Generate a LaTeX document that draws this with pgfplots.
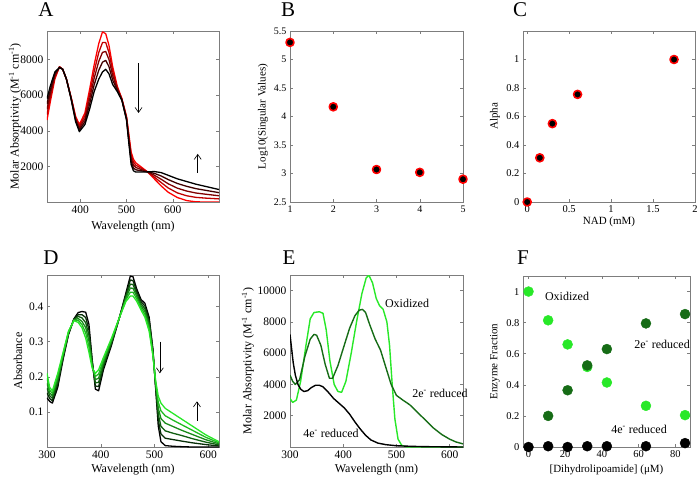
\documentclass[border=0pt]{standalone}
\usepackage{fontspec}
\setmainfont{Liberation Serif}
\usepackage{pgfplots}
\usepackage{pgfplotstable}
\pgfplotsset{compat=1.18}
\usetikzlibrary{arrows.meta}
\definecolor{lgreen}{RGB}{40,232,40}
\definecolor{dgreen}{RGB}{22,108,22}
\definecolor{axgray}{RGB}{125,125,125}

\pgfplotstableread{
nm r1 r2 r3 r4 r5
328 4600 4900 5200 5500 5800
335 5600 5825 6050 6275 6500
345 6900 7000 7100 7200 7300
355 7600 7590 7575 7560 7550
362 7450 7450 7450 7450 7450
370 6900 6900 6900 6900 6900
380 5900 5875 5850 5825 5800
390 4800 4725 4650 4575 4500
398 4350 4250 4150 4050 3950
410 5000 4840 4675 4510 4350
420 6300 6025 5750 5475 5200
430 7700 7325 6950 6575 6200
440 8900 8400 7900 7400 6900
448 9550 8950 8400 7850 7300
455 9450 8950 8450 7950 7450
462 8800 8400 8000 7600 7200
470 7600 7350 7100 6850 6600
480 6500 6425 6350 6275 6200
490 5800 5775 5750 5725 5700
500 4800 4750 4700 4650 4600
505 3800 3675 3550 3425 3300
510 2800 2625 2450 2275 2100
515 2400 2240 2075 1910 1750
520 2200 2070 1940 1810 1680
530 2000 1920 1840 1760 1680
545 1700 1700 1695 1690 1690
560 1300 1400 1505 1610 1710
575 900 1090 1275 1460 1650
590 550 790 1025 1260 1500
610 250 510 775 1040 1300
630 80 350 615 880 1150
650 10 260 505 750 1000
670 0 220 440 660 880
690 0 190 380 570 760
700 0 175 350 525 700
}\tabA

\pgfplotstableread{
nm d0 d1 d2 d3 d4 d5
300 .14 .154 .168 .182 .196 .21
305 .13 .138 .146 .154 .162 .17
310 .125 .132 .139 .146 .153 .16
320 .17 .178 .186 .194 .202 .21
330 .25 .254 .258 .262 .266 .27
340 .32 .322 .324 .326 .328 .33
350 .365 .364 .363 .362 .361 .36
358 .383 .377 .372 .366 .361 .355
365 .386 .377 .368 .358 .349 .34
372 .384 .369 .354 .340 .325 .31
378 .35 .334 .318 .302 .286 .27
384 .25 .245 .24 .235 .23 .225
390 .165 .174 .183 .192 .201 .21
396 .16 .172 .184 .196 .208 .22
405 .22 .227 .234 .241 .248 .255
420 .29 .294 .298 .302 .306 .31
435 .37 .37 .37 .37 .37 .37
447 .44 .435 .43 .425 .42 .415
455 .487 .476 .464 .453 .441 .43
460 .485 .474 .463 .452 .441 .43
467 .45 .443 .436 .429 .422 .415
475 .42 .414 .408 .402 .396 .39
482 .41 .402 .394 .386 .378 .37
490 .37 .362 .354 .346 .338 .33
497 .28 .276 .272 .268 .264 .26
502 .17 .174 .178 .182 .186 .19
507 .06 .077 .094 .111 .128 .145
512 .015 .037 .059 .081 .103 .125
520 .004 .025 .046 .068 .089 .11
535 .002 .021 .039 .058 .076 .095
550 .001 .017 .033 .048 .064 .08
570 0 .012 .024 .036 .048 .06
595 0 .007 .014 .021 .028 .035
620 0 .003 .006 .009 .012 .015
}\tabD

\pgfplotsset{
  panel/.style={
    scale only axis,
    axis line style={axgray, line width=0.6pt},
    every tick/.style={axgray, line width=0.5pt},
    tick align=inside, major tick length=3pt,
    /pgf/number format/assume math mode=true,
    /pgf/number format/1000 sep={},
    scaled ticks=false,
    tick label style={font=\fontsize{11.5}{13}\selectfont},
    label style={font=\fontsize{12}{14}\selectfont},
    every axis plot/.append style={line join=round},
  },
  ylab/.style={every axis y label/.append style={at={(axis description cs:#1,0.5)}, rotate=0, anchor=center}},
  xlab/.style={every axis x label/.append style={at={(axis description cs:0.5,#1)}, anchor=center}},
  sc/.style={only marks, mark=*, mark size=4pt, mark options={fill=black, draw=red, line width=1.6pt}},
}

\begin{document}
\begin{tikzpicture}[x=1pt,y=1pt]
\useasboundingbox (0,0) rectangle (700,479);

% ---------- A ----------
\begin{axis}[panel, at={(47pt,277pt)}, anchor=south west, width=172pt, height=171pt,
  xmin=328, xmax=700, ymin=0, ymax=9600,
  xtick={400,500,600}, ytick={2000,4000,6000,8000},
  ylab=-0.186, xlab=-0.146,
  xlabel={Wavelength (nm)}, ylabel={Molar Absorptivity (M\textsuperscript{-1} cm\textsuperscript{-1})},
  every axis plot/.append style={line width=1.3pt}]
\addplot[red] table[x=nm,y=r1]{\tabA};
\addplot[red!75!black] table[x=nm,y=r2]{\tabA};
\addplot[red!50!black] table[x=nm,y=r3]{\tabA};
\addplot[red!25!black] table[x=nm,y=r4]{\tabA};
\addplot[black] table[x=nm,y=r5]{\tabA};
\draw[-{Straight Barb[length=5pt,width=7pt]}, line width=0.6pt] (axis cs:526,7800) -- (axis cs:526,5000);
\draw[-{Straight Barb[length=5pt,width=7pt]}, line width=0.6pt] (axis cs:654,1650) -- (axis cs:654,2700);
\end{axis}

% ---------- B ----------
\begin{axis}[panel, at={(290pt,277pt)}, anchor=south west, width=173pt, height=171pt,
  xmin=1, xmax=5, ymin=2.5, ymax=5.5, clip=false,
  xtick={1,2,3,4,5}, ytick={2.5,3,3.5,4,4.5,5,5.5},
  tick label style={font=\fontsize{10}{12}\selectfont},
  label style={font=\fontsize{11}{13}\selectfont},
  ylab=-0.156,
  ylabel={Log10(Singular Values)}]
\addplot[sc] coordinates {(1,5.3) (2,4.17) (3,3.07) (4,3.02) (5,2.9)};
\end{axis}

% ---------- C ----------
\begin{axis}[panel, at={(523pt,277pt)}, anchor=south west, width=172pt, height=171pt,
  xmin=-0.05, xmax=2, ymin=0, ymax=1.2, clip=false,
  xtick={0,0.5,1,1.5,2}, ytick={0,0.2,0.4,0.6,0.8,1},
  tick label style={font=\fontsize{10.5}{12}\selectfont},
  label style={font=\fontsize{11}{13}\selectfont},
  ylab=-0.163, xlab=-0.115,
  xlabel={NAD (mM)}, ylabel={Alpha}]
\addplot[sc] coordinates {(0,0) (0.15,0.31) (0.3,0.55) (0.6,0.755) (1.75,1.0)};
\end{axis}

% ---------- D ----------
\begin{axis}[panel, at={(47pt,32pt)}, anchor=south west, width=172pt, height=172pt,
  xmin=300, xmax=620, ymin=0, ymax=0.49,
  xtick={300,400,500,600}, ytick={0.1,0.2,0.3,0.4},
  ylab=-0.169, xlab=-0.134,
  xlabel={Wavelength (nm)}, ylabel={Absorbance},
  every axis plot/.append style={line width=1.3pt}]
\addplot[black] table[x=nm,y=d0]{\tabD};
\addplot[lgreen!20!black] table[x=nm,y=d1]{\tabD};
\addplot[lgreen!40!black] table[x=nm,y=d2]{\tabD};
\addplot[lgreen!60!black] table[x=nm,y=d3]{\tabD};
\addplot[lgreen!80!black] table[x=nm,y=d4]{\tabD};
\addplot[lgreen] table[x=nm,y=d5]{\tabD};
\draw[-{Straight Barb[length=5pt,width=7pt]}, line width=0.6pt] (axis cs:510,0.30) -- (axis cs:510,0.21);
\draw[-{Straight Barb[length=5pt,width=7pt]}, line width=0.6pt] (axis cs:579,0.075) -- (axis cs:579,0.13);
\end{axis}

% ---------- E ----------
\begin{axis}[panel, at={(290pt,32pt)}, anchor=south west, width=173pt, height=172pt,
  xmin=300, xmax=625, ymin=0, ymax=11000,
  xtick={300,400,500,600}, ytick={2000,4000,6000,8000,10000},
  ylab=-0.243, xlab=-0.134,
  xlabel={Wavelength (nm)}, ylabel={Molar Absorptivity (M\textsuperscript{-1} cm\textsuperscript{-1})},
  every axis plot/.append style={line width=1.4pt}]
\addplot[lgreen] coordinates {(300,3100) (305,2850) (312,3000) (320,4200) (330,6500) (338,8200) (345,8600) (355,8650) (362,8550) (368,7500) (375,5500) (383,4000) (390,3550) (397,3500) (405,4200) (415,6000) (425,8000) (435,9800) (443,10800) (448,11000) (455,10500) (462,9500) (468,9050) (475,8800) (482,8000) (487,6500) (492,4000) (497,1800) (503,500) (510,100) (520,0) (625,0)};
\addplot[dgreen] coordinates {(300,4600) (305,4200) (310,4000) (318,4300) (328,5800) (338,6900) (345,7200) (350,7150) (358,6500) (366,5300) (374,4400) (380,4400) (390,5200) (400,6300) (412,7600) (422,8400) (430,8750) (436,8800) (442,8600) (450,7800) (460,6900) (470,6200) (480,5100) (490,4000) (500,3300) (512,3000) (525,2700) (540,2200) (555,1700) (570,1200) (585,800) (600,500) (612,320) (625,200)};
\addplot[black] coordinates {(300,7200) (303,6300) (306,5400) (310,4600) (315,4000) (320,3700) (326,3550) (333,3600) (340,3800) (348,3950) (355,3950) (362,3850) (372,3500) (382,3100) (392,2800) (402,2500) (412,2100) (422,1600) (432,1150) (442,750) (452,450) (465,250) (480,150) (500,80) (530,40) (560,20) (625,0)};
\end{axis}

% ---------- F ----------
\begin{axis}[panel, at={(523pt,32pt)}, anchor=south west, width=167pt, height=171pt,
  xmin=-3, xmax=88, ymin=0, ymax=1.1, clip=false,
  xtick={0,20,40,60,80}, ytick={0,0.2,0.4,0.6,0.8,1},
  tick label style={font=\fontsize{10.5}{12}\selectfont},
  label style={font=\fontsize{11}{13}\selectfont},
  ylab=-0.168, xlab=-0.134,
  xlabel={[Dihydrolipoamide] (μM)}, ylabel={Enzyme Fraction}]
\addplot[only marks, mark=*, mark size=5pt, lgreen, mark options={draw=lgreen, fill=lgreen}] coordinates {(0,1.0) (10.7,0.815) (21.3,0.66) (32,0.515) (42.7,0.415) (64,0.265) (85.3,0.205)};
\addplot[only marks, mark=*, mark size=5pt, dgreen, mark options={draw=dgreen, fill=dgreen}] coordinates {(10.7,0.2) (21.3,0.365) (32,0.525) (42.7,0.63) (64,0.795) (85.3,0.855)};
\addplot[only marks, mark=*, mark size=5pt, black] coordinates {(0,0.0) (10.7,0.005) (21.3,0.0) (32,0.005) (42.7,0.005) (64,0.005) (85.3,0.025)};
\end{axis}

% annotations
\node[font=\fontsize{12}{14}\selectfont] at (407,176) {Oxidized};
\node[font=\fontsize{12}{14}\selectfont] at (440,86) {2e\textsuperscript{-} reduced};
\node[font=\fontsize{12}{14}\selectfont] at (331,46) {4e\textsuperscript{-} reduced};
\node[font=\fontsize{12}{14}\selectfont] at (567,183) {Oxidized};
\node[font=\fontsize{12}{14}\selectfont] at (662,135) {2e\textsuperscript{-} reduced};
\node[font=\fontsize{12}{14}\selectfont] at (639,50) {4e\textsuperscript{-} reduced};

% panel letters
\node[font=\fontsize{21}{24}\selectfont] at (46,469) {A};
\node[font=\fontsize{21}{24}\selectfont] at (288,469) {B};
\node[font=\fontsize{21}{24}\selectfont] at (520,469) {C};
\node[font=\fontsize{21}{24}\selectfont] at (51,221) {D};
\node[font=\fontsize{21}{24}\selectfont] at (289,221) {E};
\node[font=\fontsize{21}{24}\selectfont] at (523,221) {F};
\end{tikzpicture}
\end{document}
